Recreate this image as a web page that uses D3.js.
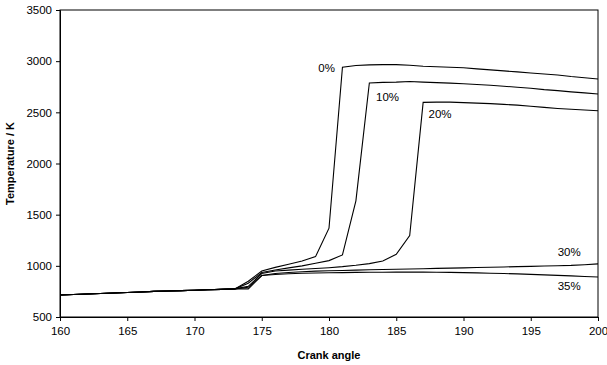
<!DOCTYPE html>
<html>
<head>
<meta charset="utf-8">
<script src="https://cdn.jsdelivr.net/npm/d3@7"></script>
<style>
  body { margin: 0; background: #fff; }
  svg text { font-family: "Liberation Sans", Arial, sans-serif; }
</style>
</head>
<body>
<div id="chart"></div>
<script>
// crank angle, one point per degree
var angles = [160,161,162,163,164,165,166,167,168,169,170,171,172,173,174,175,176,177,178,179,180,
              181,182,183,184,185,186,187,188,189,190,191,192,193,194,195,196,197,198,199,200];

var temp0 = [715,720,725,730,735,740,745,750,754,758,762,766,770,775,850,950,985,1015,1048,1090,1368,
             2940,2957,2964,2966,2966,2960,2950,2945,2940,2935,2925,2915,2905,2895,2885,2875,2865,2850,2838,2826];
var temp10 = [715,720,725,730,735,740,745,750,754,758,762,766,770,775,830,935,960,980,1000,1025,1051,
              1107,1635,2787,2793,2795,2802,2795,2790,2785,2780,2772,2764,2755,2745,2735,2722,2712,2700,2690,2679];
var temp20 = [715,720,725,730,735,740,745,750,754,758,762,766,770,775,800,925,950,958,966,974,982,
              992,1005,1022,1048,1113,1295,2597,2600,2600,2595,2590,2585,2578,2570,2560,2548,2538,2530,2523,2516];
var temp30 = [715,720,725,730,735,740,745,750,754,758,762,766,770,775,790,905,925,935,942,948,952,
              955,958,961,964,967,969,972,975,978,980,983,986,989,992,995,998,1001,1004,1011,1019];
var temp35 = [715,720,725,730,735,740,745,750,754,758,762,766,770,775,775,905,915,922,927,930,932,
              934,936,937,938,939,939,939,938,936,934,931,928,925,921,917,912,907,902,896,891];

var seriesNames = ["0%", "10%", "20%", "30%", "35%"];
// label anchor in data units (angle, temperature)
var labelAngles = [179.2, 183.5, 187.4, 197.0, 197.0];
var labelTemps = [2895, 2610, 2440, 1095, 760];

var xTicks = [160,165,170,175,180,185,190,195,200];
var yTicks = [500,1000,1500,2000,2500,3000,3500];

var width = 607, height = 365;
var margin = {top: 10, right: 9, bottom: 48, left: 60};
var plotW = width - margin.left - margin.right;
var plotH = height - margin.top - margin.bottom;

var svg = d3.select("#chart").append("svg")
    .attr("width", width)
    .attr("height", height);

var g = svg.append("g")
    .attr("transform", "translate(" + margin.left + "," + margin.top + ")");

var x = d3.scaleLinear().domain([160, 200]).range([0, plotW]);
var y = d3.scaleLinear().domain([500, 3500]).range([plotH, 0]);

// frame
g.append("rect")
    .attr("x", 0).attr("y", 0)
    .attr("width", plotW).attr("height", plotH)
    .attr("fill", "none")
    .attr("stroke", "#000")
    .attr("stroke-width", 1);

var xAxis = g.append("g")
    .attr("transform", "translate(0," + plotH + ")")
    .call(d3.axisBottom(x).tickValues(xTicks).tickSize(4).tickPadding(6).tickFormat(d3.format("d")));
var yAxis = g.append("g")
    .call(d3.axisLeft(y).tickValues(yTicks).tickSize(4).tickPadding(4).tickFormat(d3.format("d")));

[xAxis, yAxis].forEach(function (a) {
    a.selectAll("path").attr("stroke", "#000");
    a.selectAll("line").attr("stroke", "#000");
    a.selectAll("text")
        .style("font-family", "'Liberation Sans', Arial, sans-serif")
        .style("font-size", "11.5px")
        .attr("fill", "#000");
});

var allSeries = [temp0, temp10, temp20, temp30, temp35];

var line = d3.line()
    .x(function (d, i) { return x(angles[i]); })
    .y(function (d) { return y(d); });

g.selectAll(".series")
    .data(allSeries)
    .enter()
    .append("path")
    .attr("class", "series")
    .attr("d", line)
    .attr("fill", "none")
    .attr("stroke", "#000")
    .attr("stroke-width", 1.1);

g.selectAll(".lbl")
    .data(seriesNames)
    .enter()
    .append("text")
    .attr("class", "lbl")
    .attr("x", function (d, i) { return x(labelAngles[i]); })
    .attr("y", function (d, i) { return y(labelTemps[i]); })
    .attr("font-size", "11.5px")
    .attr("fill", "#000")
    .text(function (d) { return d; });

svg.append("text")
    .attr("x", margin.left + plotW * 0.5)
    .attr("y", 359)
    .attr("text-anchor", "middle")
    .attr("font-size", "11px")
    .attr("font-weight", "bold")
    .text("Crank angle");

svg.append("text")
    .attr("transform", "translate(14," + (margin.top + plotH / 2) + ") rotate(-90)")
    .attr("text-anchor", "middle")
    .attr("font-size", "11px")
    .attr("font-weight", "bold")
    .text("Temperature / K");
</script>
</body>
</html>
